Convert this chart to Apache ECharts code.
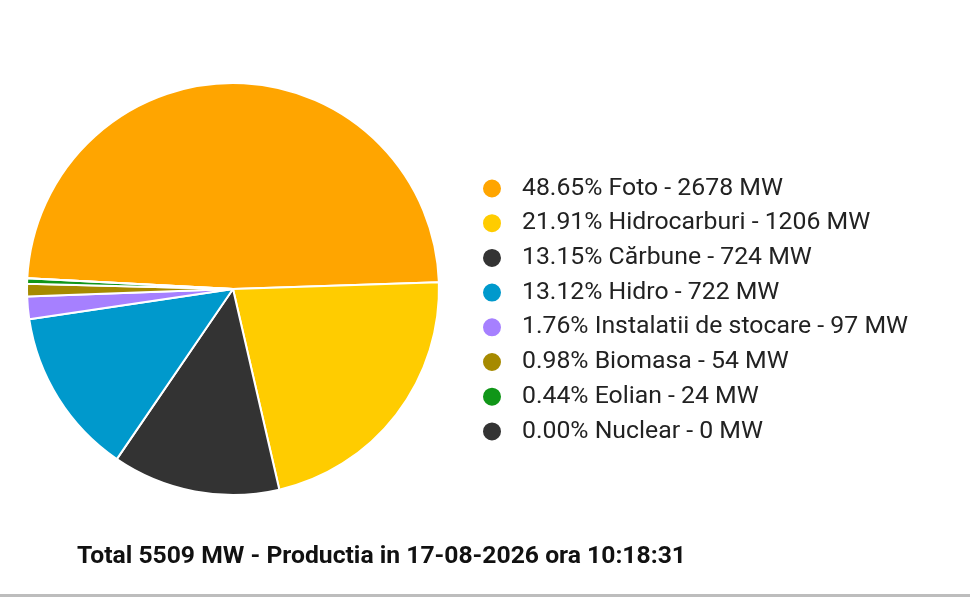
<!DOCTYPE html>
<html><head><meta charset="utf-8">
<script src="https://cdn.jsdelivr.net/npm/echarts@6/dist/echarts.min.js"></script>
<style>html,body{margin:0;padding:0;background:#fff}#c{width:970px;height:599px}</style>
</head><body><div id="c"></div>
<script>
const categories = ['Foto','Hidrocarburi','Cărbune','Hidro','Instalatii de stocare','Biomasa','Eolian','Nuclear'];
const values = [2678,1206,724,722,97,54,24,0];
const percents = ['48.65','21.91','13.15','13.12','1.76','0.98','0.44','0.00'];
const colors = ['#FFA500','#FFCC00','#333333','#0099CC','#A680FF','#A68A00','#109618','#333333'];
const titleText = 'Total 5509 MW - Productia in 17-08-2026 ora 10:18:31';

const chart = echarts.init(document.getElementById('c'));
chart.setOption({
  animation:false,
  color: colors,
  title:{text:titleText,left:72,top:539,textStyle:{fontFamily:'Roboto',fontWeight:'bold',fontSize:24.7,color:'#111'}},
  legend:{orient:'vertical',left:476,top:171,icon:'circle',itemWidth:20,itemHeight:20,itemGap:9.7,
    textStyle:{fontFamily:'Roboto',fontSize:24.8,lineHeight:25,color:'#222',padding:[0,0,0,15]},
    formatter:function(n){const i=categories.indexOf(n);return percents[i]+'% '+n+' - '+values[i]+' MW';}},
  graphic:[{type:'rect',shape:{x:0,y:594,width:970,height:3},style:{fill:'#bdbdbd'}}],
  series:[{type:'pie',center:[233,289],radius:206,startAngle:177,clockwise:true,
    label:{show:false},labelLine:{show:false},
    itemStyle:{borderColor:'#fff',borderWidth:2},
    data:categories.map((c,i)=>({name:c,value:values[i]}))}]
});
</script></body></html>
